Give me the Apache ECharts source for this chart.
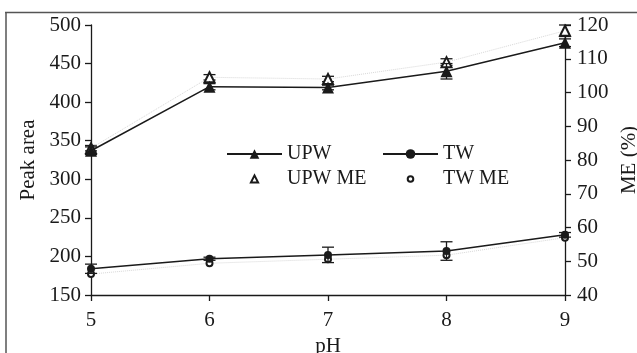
<!DOCTYPE html>
<html>
<head>
<meta charset="utf-8">
<script src="https://cdn.jsdelivr.net/npm/echarts@6/dist/echarts.min.js"></script>
<style>
html,body{margin:0;padding:0;background:#fff;}
#c{width:637px;height:353px;}
</style>
</head>
<body>
<div id="c"></div>
<script>
// ---- data ----
const phValues = [5, 6, 7, 8, 9];
const upw = [337, 420, 419, 440, 477];
const upwErr = [5, 4, 3, 10, 5];
const tw = [184, 197, 202, 207, 228];
const twErr = [6, 2, 10, 12, 3];
const upwMe = [83.5, 104.5, 104, 109, 118.3];
const upwMeErr = [0.8, 0.8, 0.8, 1, 1.7];
const twMe = [46.2, 49.4, 50.6, 51.8, 57];
const leftTicks = [150, 200, 250, 300, 350, 400, 450, 500];
const rightTicks = [40, 50, 60, 70, 80, 90, 100, 110, 120];

const FONT = 'Liberation Serif';
const INK = '#1a1a1a';

function pairs(xs, ys) { return xs.map((x, i) => [x, ys[i]]); }
function errData(xs, ys, es) { return xs.map((x, i) => [x, ys[i] - es[i], ys[i] + es[i]]); }

function errRender(params, api) {
  const x = api.value(0);
  const lo = api.coord([x, api.value(1)]);
  const hi = api.coord([x, api.value(2)]);
  const w = 6;
  const st = { stroke: INK, lineWidth: 1.3 };
  return {
    type: 'group',
    children: [
      { type: 'line', shape: { x1: lo[0], y1: lo[1], x2: hi[0], y2: hi[1] }, style: st },
      { type: 'line', shape: { x1: lo[0] - w, y1: lo[1], x2: lo[0] + w, y2: lo[1] }, style: st },
      { type: 'line', shape: { x1: hi[0] - w, y1: hi[1], x2: hi[0] + w, y2: hi[1] }, style: st }
    ]
  };
}

const chart = echarts.init(document.getElementById('c'), null, { renderer: 'canvas' });
const axisLine = { show: true, lineStyle: { color: INK, width: 1.3 } };
const axisTick = { show: true, inside: false, length: 6, lineStyle: { color: INK, width: 1.3 } };
const labelStyle = { fontFamily: FONT, fontSize: 21, color: INK };

const legendText = { fontFamily: FONT, fontSize: 20, color: INK };
function legendAt(left, top, name, h, hideLine) {
  const d = { name: name };
  if (hideLine) d.lineStyle = { opacity: 0 };
  return { left: left, top: top, itemWidth: 55, itemHeight: h, textStyle: legendText, data: [d] };
}

chart.setOption({
  animation: false,
  backgroundColor: '#fff',
  grid: { left: 91, right: 72, top: 25, bottom: 58, containLabel: false, outerBoundsMode: 'none' },
  graphic: [
    { type: 'line', shape: { x1: 5, y1: 12.5, x2: 637, y2: 12.5 }, style: { stroke: '#555', lineWidth: 1.5 } },
    { type: 'line', shape: { x1: 6, y1: 12.5, x2: 6, y2: 353 }, style: { stroke: '#555', lineWidth: 1.5 } }
  ],
  legend: [
    legendAt(221, 139, 'UPW', 12, false),
    legendAt(221, 164, 'UPW ME', 9, true),
    legendAt(377, 139, 'TW', 12, false),
    legendAt(377, 164, 'TW ME', 7, true)
  ],
  xAxis: {
    type: 'value', min: 5, max: 9, interval: 1,
    name: 'pH', nameLocation: 'middle', nameGap: 38,
    nameTextStyle: { fontFamily: FONT, fontSize: 21, color: INK },
    axisLine: axisLine, axisTick: axisTick,
    axisLabel: Object.assign({ margin: 15 }, labelStyle),
    splitLine: { show: false }
  },
  yAxis: [
    {
      type: 'value', min: leftTicks[0], max: leftTicks[leftTicks.length - 1], interval: 50,
      name: 'Peak area', nameLocation: 'middle', nameGap: 46, nameRotate: 90,
      nameTextStyle: { fontFamily: FONT, fontSize: 21, color: INK },
      axisLine: axisLine, axisTick: axisTick,
      axisLabel: Object.assign({ margin: 10 }, labelStyle),
      splitLine: { show: false }
    },
    {
      type: 'value', min: rightTicks[0], max: rightTicks[rightTicks.length - 1], interval: 10,
      position: 'right',
      name: 'ME (%)', nameLocation: 'middle', nameGap: 40, nameRotate: 90,
      nameTextStyle: { fontFamily: FONT, fontSize: 21, color: INK },
      axisLine: axisLine, axisTick: axisTick,
      axisLabel: Object.assign({ margin: 12 }, labelStyle),
      splitLine: { show: false }
    }
  ],
  series: [
    {
      name: 'UPW ME', type: 'line', yAxisIndex: 1, data: pairs(phValues, upwMe),
      symbol: 'emptyTriangle', symbolSize: 10, showAllSymbol: true,
      lineStyle: { color: '#d8d8d8', width: 1, type: 'dotted' },
      itemStyle: { color: INK, borderColor: INK, borderWidth: 1.3 }, z: 3
    },
    {
      name: 'UPW ME err', type: 'custom', yAxisIndex: 1, data: errData(phValues, upwMe, upwMeErr),
      renderItem: errRender, z: 3
    },
    {
      name: 'TW ME', type: 'line', yAxisIndex: 1, data: pairs(phValues, twMe),
      symbol: 'emptyCircle', symbolSize: 6,
      lineStyle: { color: '#d8d8d8', width: 1, type: 'dotted' },
      itemStyle: { color: INK, borderColor: INK, borderWidth: 1.3 }, z: 3
    },
    {
      name: 'UPW err', type: 'custom', data: errData(phValues, upw, upwErr),
      renderItem: errRender, z: 4
    },
    {
      name: 'TW err', type: 'custom', data: errData(phValues, tw, twErr),
      renderItem: errRender, z: 4
    },
    {
      name: 'UPW', type: 'line', data: pairs(phValues, upw),
      symbol: 'triangle', symbolSize: 12,
      lineStyle: { color: INK, width: 1.5 },
      itemStyle: { color: INK }, z: 5
    },
    {
      name: 'TW', type: 'line', data: pairs(phValues, tw),
      symbol: 'circle', symbolSize: 8,
      lineStyle: { color: INK, width: 1.5 },
      itemStyle: { color: INK }, z: 5
    }
  ]
});
</script>
</body>
</html>
